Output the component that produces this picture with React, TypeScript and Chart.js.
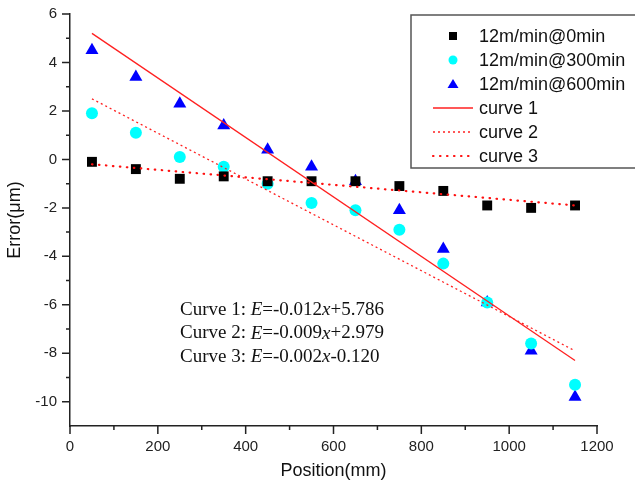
import React, { useEffect, useRef } from 'react';
import { Chart, registerables } from 'chart.js';

Chart.register(...registerables);

// ---- data ----
const POSITIONS = [50, 150, 250, 350, 450, 550, 650, 750, 850, 950, 1050, 1150];
const ERR_0MIN = [-0.1, -0.4, -0.8, -0.7, -0.9, -0.9, -0.9, -1.1, -1.3, -1.9, -2.0, -1.9];
const ERR_300MIN = [1.9, 1.1, 0.1, -0.3, -1.0, -1.8, -2.1, -2.9, -4.3, -5.9, -7.6, -9.3];
const ERR_600MIN = [4.5, 3.4, 2.3, 1.4, 0.4, -0.3, -0.9, -2.1, -3.7, -5.9, -7.9, -9.8];
const FIT_X = [50, 1150];
const CURVE_1 = [5.2, -8.3];
const CURVE_2 = [2.5, -7.9];
const CURVE_3 = [-0.2, -1.9];
const SERIES_LABELS = ['12m/min@0min', '12m/min@300min', '12m/min@600min', 'curve 1', 'curve 2', 'curve 3'];
const EQ_NAMES = ['Curve 1: ', 'Curve 2: ', 'Curve 3: '];
const EQ_SLOPES = ['=-0.012', '=-0.009', '=-0.002'];
const EQ_INTERCEPTS = ['+5.786', '+2.979', '-0.120'];
const X_TITLE = 'Position(mm)';
const Y_TITLE = 'Error(μm)';

const SANS = '"Liberation Sans", Arial, sans-serif';
const SERIF = '"Liberation Serif", "Times New Roman", serif';

const toXY = (xs: number[], ys: number[]) => xs.map((x, i) => ({ x, y: ys[i] }));

function drawMarker(ctx: CanvasRenderingContext2D, style: string, x: number, y: number, r: number, color: string) {
  ctx.fillStyle = color;
  ctx.beginPath();
  if (style === 'rect') {
    ctx.rect(x - r, y - r, 2 * r, 2 * r);
  } else if (style === 'circle') {
    ctx.arc(x, y, r, 0, Math.PI * 2);
  } else {
    ctx.moveTo(x, y - r);
    ctx.lineTo(x + r * 1.1, y + r * 0.8);
    ctx.lineTo(x - r * 1.1, y + r * 0.8);
    ctx.closePath();
  }
  ctx.fill();
}

const tickMarksPlugin = {
  id: 'tickMarks',
  afterDraw(chart: any) {
    const { ctx, scales } = chart;
    const xs = scales.x;
    const ys = scales.y;
    ctx.save();
    ctx.strokeStyle = '#222';
    ctx.lineWidth = 1.5;
    ctx.beginPath();
    xs.ticks.forEach((t: any) => {
      const px = xs.getPixelForValue(t.value);
      const len = t.value % 200 === 0 ? 8 : 4;
      ctx.moveTo(px, ys.bottom);
      ctx.lineTo(px, ys.bottom + len);
    });
    ys.ticks.forEach((t: any) => {
      if (t.value === ys.min) return;
      const py = ys.getPixelForValue(t.value);
      const len = t.value % 2 === 0 ? 8 : 4;
      ctx.moveTo(xs.left, py);
      ctx.lineTo(xs.left - len, py);
    });
    ctx.stroke();
    ctx.restore();
  },
};

const legendBoxPlugin = {
  id: 'legendBox',
  afterDraw(chart: any) {
    const { ctx } = chart;
    ctx.save();
    ctx.strokeStyle = '#555';
    ctx.lineWidth = 1.5;
    ctx.strokeRect(411, 15, 240, 153);
    const rowY0 = 36;
    const rowStep = 24;
    ctx.font = `18px ${SANS}`;
    ctx.textBaseline = 'middle';
    ctx.textAlign = 'left';
    chart.data.datasets.forEach((ds: any, i: number) => {
      const y = rowY0 + i * rowStep;
      if (ds.showLine) {
        ctx.save();
        ctx.strokeStyle = ds.borderColor;
        ctx.lineWidth = ds.borderWidth;
        ctx.lineCap = ds.borderCapStyle || 'butt';
        ctx.setLineDash(ds.borderDash || []);
        ctx.beginPath();
        ctx.moveTo(433, y);
        ctx.lineTo(473, y);
        ctx.stroke();
        ctx.restore();
      } else {
        const r = ds.pointStyle === 'rect' ? 4 : ds.pointStyle === 'circle' ? 4.5 : 5;
        drawMarker(ctx, ds.pointStyle, 453, y, r, ds.backgroundColor);
      }
      ctx.fillStyle = '#111';
      ctx.fillText(ds.label, 479, y + 1);
    });
    ctx.restore();
  },
};

const equationsPlugin = {
  id: 'equations',
  afterDraw(chart: any) {
    const { ctx } = chart;
    ctx.save();
    ctx.fillStyle = '#111';
    ctx.textBaseline = 'middle';
    ctx.textAlign = 'left';
    const normal = `19px ${SERIF}`;
    const italic = `italic 19px ${SERIF}`;
    EQ_NAMES.forEach((name, i) => {
      const y = 310 + i * 23.5;
      let x = 180;
      const parts: [string, string][] = [
        [name, normal],
        ['E', italic],
        [EQ_SLOPES[i], normal],
        ['x', italic],
        [EQ_INTERCEPTS[i], normal],
      ];
      parts.forEach(([txt, font]) => {
        ctx.font = font;
        ctx.fillText(txt, x, y);
        x += ctx.measureText(txt).width;
      });
    });
    ctx.restore();
  },
};

export default function App() {
  const canvasRef = useRef<HTMLCanvasElement | null>(null);

  useEffect(() => {
    document.body.style.margin = '0';
    const canvas = canvasRef.current;
    if (!canvas) return;
    const chart = new Chart(canvas, {
      type: 'scatter',
      data: {
        datasets: [
          {
            label: SERIES_LABELS[0],
            data: toXY(POSITIONS, ERR_0MIN),
            pointStyle: 'rect',
            pointRadius: 7,
            backgroundColor: '#000000',
            borderColor: '#000000',
            borderWidth: 0,
            order: 1,
          },
          {
            label: SERIES_LABELS[1],
            data: toXY(POSITIONS, ERR_300MIN),
            pointStyle: 'circle',
            pointRadius: 6,
            backgroundColor: '#00FFFF',
            borderColor: '#00FFFF',
            borderWidth: 0,
            order: 1,
          },
          {
            label: SERIES_LABELS[2],
            data: toXY(POSITIONS, ERR_600MIN),
            pointStyle: 'triangle',
            pointRadius: 7.5,
            backgroundColor: '#0000FF',
            borderColor: '#0000FF',
            borderWidth: 0,
            order: 1,
          },
          {
            label: SERIES_LABELS[3],
            data: toXY(FIT_X, CURVE_1),
            showLine: true,
            pointRadius: 0,
            borderColor: '#FF2020',
            borderWidth: 1.3,
            order: 0,
          },
          {
            label: SERIES_LABELS[4],
            data: toXY(FIT_X, CURVE_2),
            showLine: true,
            pointRadius: 0,
            borderColor: '#FF2020',
            borderWidth: 1.3,
            borderDash: [2, 3],
            order: 0,
          },
          {
            label: SERIES_LABELS[5],
            data: toXY(FIT_X, CURVE_3),
            showLine: true,
            pointRadius: 0,
            borderColor: '#FF1010',
            borderWidth: 2.2,
            borderDash: [0.5, 6.5],
            borderCapStyle: 'round',
            order: 0,
          },
        ] as any,
      },
      options: {
        responsive: false,
        animation: false,
        layout: { padding: { left: 0, top: 14, right: 38, bottom: 0 } },
        plugins: { legend: { display: false }, tooltip: { enabled: false } },
        scales: {
          x: {
            type: 'linear',
            min: 0,
            max: 1200,
            ticks: {
              stepSize: 100,
              autoSkip: false,
              maxRotation: 0,
              padding: 12,
              color: '#222',
              font: { family: SANS, size: 15 },
              callback: (v: any) => (Number(v) % 200 === 0 ? String(v) : ''),
            },
            grid: { display: false, drawTicks: false },
            border: { display: true, color: '#222', width: 1.5 },
            title: {
              display: true,
              text: X_TITLE,
              color: '#111',
              font: { family: SANS, size: 18 },
              padding: { top: 0, bottom: 12 },
            },
            afterFit: (s: any) => {
              s.height = 68;
            },
          },
          y: {
            type: 'linear',
            min: -11,
            max: 6,
            ticks: {
              stepSize: 1,
              autoSkip: false,
              padding: 13,
              color: '#222',
              font: { family: SANS, size: 15 },
              callback: (v: any) => (Number(v) % 2 === 0 ? String(v) : ''),
            },
            grid: { display: false, drawTicks: false },
            border: { display: true, color: '#222', width: 1.5 },
            title: {
              display: true,
              text: Y_TITLE,
              color: '#111',
              font: { family: SANS, size: 18 },
              padding: { top: 4, bottom: 0 },
            },
            afterFit: (s: any) => {
              s.width = 70;
              s.paddingTop = 0;
              s.paddingBottom = 0;
            },
          },
        },
      } as any,
      plugins: [tickMarksPlugin, legendBoxPlugin, equationsPlugin],
    });
    return () => chart.destroy();
  }, []);

  return (
    <div style={{ width: 635, height: 494, background: '#fff' }}>
      <canvas ref={canvasRef} width={635} height={494} />
    </div>
  );
}
